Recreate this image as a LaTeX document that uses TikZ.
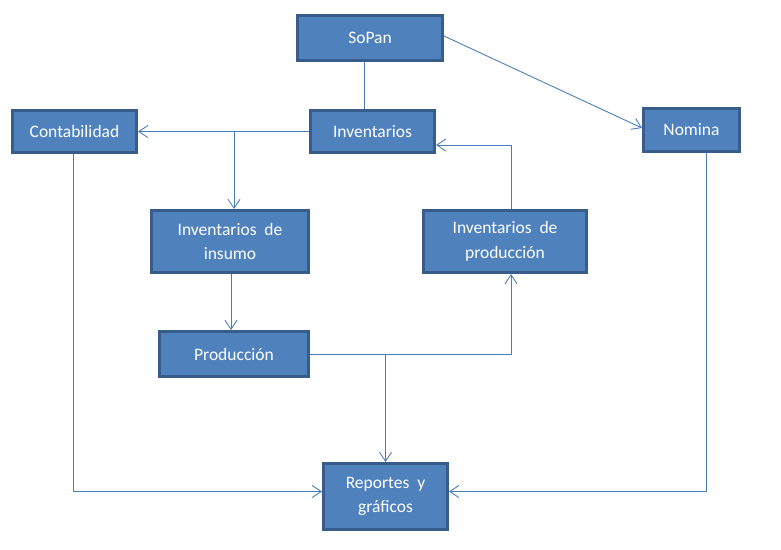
\documentclass[tikz,border=0pt]{standalone}
\usepackage{fontspec}
\setmainfont{Carlito}
\usetikzlibrary{arrows.meta}

\definecolor{boxfill}{HTML}{4F81BD}
\definecolor{boxline}{HTML}{385D8A}
\definecolor{wirecol}{HTML}{4A7EBB}

\begin{document}
\begin{tikzpicture}[x=1pt,y=-1pt,->,>={Straight Barb[length=9pt,width=12pt]},
                        box/.style={draw=boxline,line width=3pt,fill=boxfill,
                          text=white,align=center,inner sep=0pt,
                          font=\fontsize{17.5}{24.5}\selectfont},
                        wire/.style={draw=wirecol,line width=0.9pt}]

        \useasboundingbox (0,0) rectangle (781,549);

        \node[box,minimum width=145pt,minimum height=45pt] (sopan) at (370,38) {SoPan};
        \node[box,minimum width=124pt,minimum height=42pt] (cont) at (74.5,131.5) {Contabilidad};
        \node[box,minimum width=124pt,minimum height=42pt] (inv) at (372.5,131.5) {Inventarios};
        \node[box,minimum width=96pt,minimum height=43pt] (nomina) at (691.5,130) {Nomina};
        \node[box,minimum width=157pt,minimum height=62pt] (insumo) at (230,241.5) {Inventarios\ \ de\\insumo};
        \node[box,minimum width=163pt,minimum height=62pt] (invprod) at (505,241.5) {Inventarios\ \ de\\producción};
        \node[box,minimum width=149pt,minimum height=45pt] (prod) at (234,354) {Producción};
        \node[box,minimum width=124pt,minimum height=66pt] (rep) at (385.5,496.5) {Reportes\ \ y\\gráficos};

        \draw[wire,-] ([xshift=-6pt]sopan.south) -- ([xshift=-6pt]sopan.south |- inv.north);
        \draw[wire] ([yshift=2pt]sopan.east) -- ([yshift=2pt]nomina.west);
        \draw[wire] (inv.west) -- (cont.east);
        \draw[wire] ([xshift=4pt]insumo.north |- inv.west) -- ([xshift=4pt]insumo.north);
        \draw[wire] ([xshift=1pt]insumo.south) -- ([xshift=1pt]insumo.south |- prod.north);
        \draw[wire] (prod.east) -| ([xshift=6pt]invprod.south);
        \draw[wire] (rep.north |- prod.east) -- (rep.north);
        \draw[wire] ([xshift=6pt]invprod.north) |- ([yshift=-13.5pt]inv.east);
        \draw[wire] ([xshift=-1.5pt]cont.south) |- ([yshift=5pt]rep.west);
        \draw[wire] ([xshift=14.5pt]nomina.south) |- ([yshift=5pt]rep.east);
    \end{tikzpicture}
\end{document}
